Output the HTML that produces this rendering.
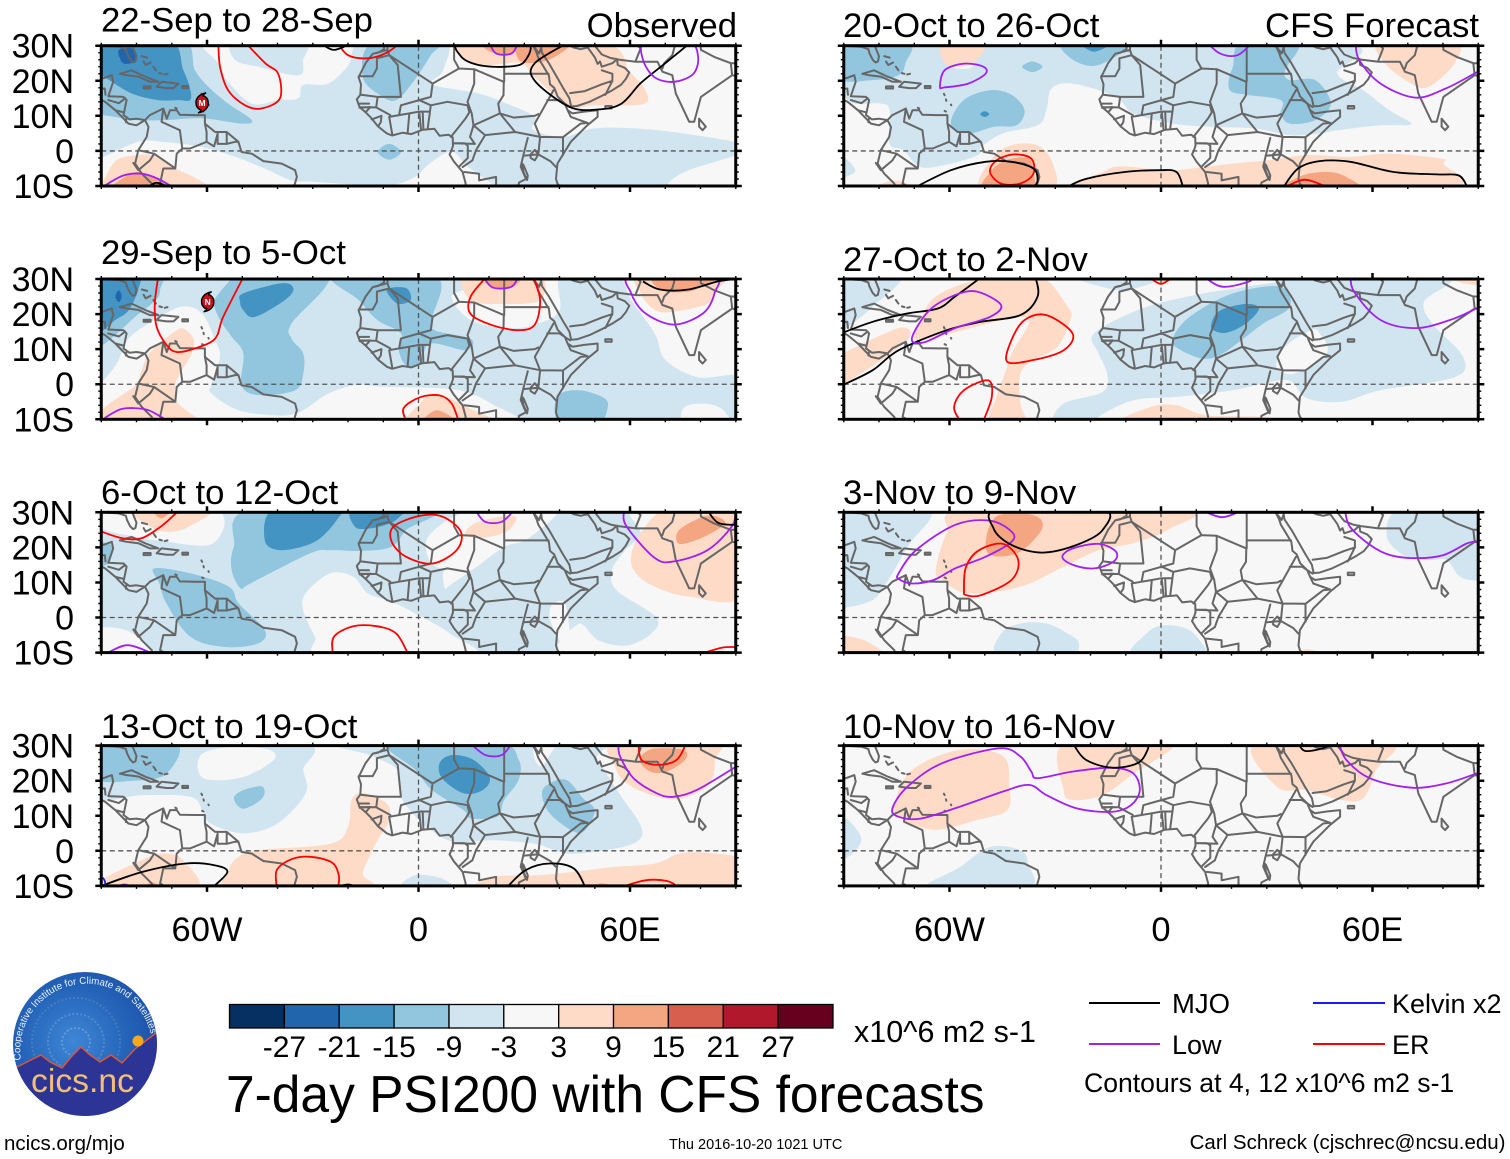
<!DOCTYPE html>
<html lang="en">
<head>
<meta charset="utf-8">
<title>7-day PSI200 with CFS forecasts</title>
<style>
html,body{margin:0;padding:0;background:#fff;}
svg{display:block;font-family:"Liberation Sans",Arial,sans-serif;}
</style>
</head>
<body>
<svg id="figure" xmlns="http://www.w3.org/2000/svg" width="1510" height="1159" viewBox="0 0 1510 1159">
  <defs>
    <radialGradient id="logoSky" cx="0.42" cy="0.48" r="0.62">
      <stop offset="0" stop-color="#3f86d6"/>
      <stop offset="0.6" stop-color="#2464b8"/>
      <stop offset="1" stop-color="#1d4fa6"/>
    </radialGradient>
    <clipPath id="logoClip"><circle cx="85" cy="1044" r="72"/></clipPath>
    <path id="logoArc" d="M 21 1060 A 66 66 0 1 1 152 1040"/>
  </defs>

  <g>
    <circle cx="85" cy="1044" r="72" fill="url(#logoSky)"/>
    <g clip-path="url(#logoClip)">
      <circle cx="76" cy="1042" r="14" fill="none" stroke="#fff" stroke-opacity="0.22" stroke-width="2" stroke-dasharray="2 2"/>
      <circle cx="76" cy="1042" r="28" fill="none" stroke="#fff" stroke-opacity="0.17" stroke-width="2" stroke-dasharray="2 2"/>
      <circle cx="76" cy="1042" r="44" fill="none" stroke="#fff" stroke-opacity="0.12" stroke-width="2" stroke-dasharray="2 2"/>
      <path d="M10 1069 L19 1066 L41 1055 L50 1062 L62 1068 L72 1056 L81 1047 L90 1055 L100 1062 L111 1055 L122 1063 L135 1049 L160 1030 L160 1120 L10 1120 Z" fill="#2c3595" stroke="#e8532b" stroke-width="1.4"/>
      <circle cx="138" cy="1041" r="5.5" fill="#f7a823"/>
    </g>
    <text font-size="9.8" fill="#eaf0fa"><textPath href="#logoArc">Cooperative Institute for Climate and Satellites</textPath></text>
    <text x="31" y="1092" font-size="33.7" fill="#f2bf78">cics.nc</text>
  </g>

  <text x="854" y="1042" font-size="31" textLength="182" lengthAdjust="spacingAndGlyphs">x10^6 m2 s-1</text>
  <text x="226" y="1112" font-size="51.5">7-day PSI200 with CFS forecasts</text>
  <text x="4" y="1150" font-size="20.5">ncics.org/mjo</text>
  <text x="669" y="1149" font-size="14.5">Thu 2016-10-20 1021 UTC</text>
  <text x="1505.5" y="1149" font-size="20.5" text-anchor="end">Carl Schreck (cjschrec@ncsu.edu)</text>

  <g>
    <line x1="1089" x2="1160" y1="1003" y2="1003" stroke="#000" stroke-width="2"/>
    <text x="1172" y="1013" font-size="27.5">MJO</text>
    <line x1="1313" x2="1385" y1="1003" y2="1003" stroke="#1a1aff" stroke-width="2"/>
    <text x="1392" y="1013" font-size="27">Kelvin x2</text>
    <line x1="1089" x2="1160" y1="1044" y2="1044" stroke="#a020f0" stroke-width="2"/>
    <text x="1172" y="1054" font-size="27">Low</text>
    <line x1="1313" x2="1385" y1="1044" y2="1044" stroke="#ff0000" stroke-width="2"/>
    <text x="1392" y="1054" font-size="27">ER</text>
    <text x="1084" y="1092" font-size="26.6">Contours at 4, 12 x10^6 m2 s-1</text>
  </g>
</svg>

<script>
/* ---------- axis and colour-bar values ---------- */
const latTickValues = [30, 20, 10, 0, -10];
const latTickLabels = ['30N', '20N', '10N', '0', '10S'];
const lonTickValues = [-60, 0, 60];
const lonTickLabels = ['60W', '0', '60E'];
const colorbarLabels = [-27, -21, -15, -9, -3, 3, 9, 15, 21, 27];
const colorbarColors = ['#053061', '#2166ac', '#4393c3', '#92c5de', '#d1e5f0', '#f7f7f7', '#fddbc7', '#f4a582', '#d6604d', '#b2182b', '#67001f'];
const panelTitles = ['22-Sep to 28-Sep', '29-Sep to 5-Oct', '6-Oct to 12-Oct', '13-Oct to 19-Oct', '20-Oct to 26-Oct', '27-Oct to 2-Nov', '3-Nov to 9-Nov', '10-Nov to 16-Nov'];
const contourColors = {mjo: '#000000', low: '#a020f0', er: '#ff0000', kelvin: '#1a1aff'};

/* ---------- map outlines, flat lon,lat lists ---------- */
const coastlines = [
  [-92,30,-90,30,-85,29.7,-83,29,-82.7,27.8,-81.8,26,-81,25.2,-80.3,25.5,-80,27,-81,29.5,-81.4,31],
  [-92,21,-89.4,20.7,-87,21.6,-86.6,19.7,-88,15.6,-83.7,15.4,-82.8,14.5,-83.7,10.2,-82,9,-80,9.2,-77.6,8.8,-76.2,10.2,-72.4,12.1,-71.4,9.2,-70.5,11.6,-68.6,11.6,-67.7,10.3,-63.4,10.2,-60.6,10.2,-60.6,7.8,-57.7,5.4,-54.4,5.4,-51.1,2.6,-50.2,-0.3,-47.3,-0.8,-44,-2.9,-38.8,-3.6,-35,-5.5,-34.5,-7.4,-35.2,-9.8,-36,-12],
  [-92,15.5,-88.9,14,-86,11.6,-82.3,7.8,-80,7.3,-77.6,8.8,-76.6,6.8,-77.1,4,-79.5,0.2,-80.4,-3.6,-78.5,-6.5,-75.7,-9.3,-74.5,-12],
  [-84.7,22,-81.4,23,-77.6,21.2,-73.8,19.7,-76.2,19.7,-79.5,21.2,-82.8,21.6,-84.7,22],
  [-74.3,18.3,-72.9,19.7,-68.1,19.2,-69.5,17.9,-71.5,17.9,-74.3,18.3],
  [-78,18.4,-76,18.4,-76,17.8,-78,17.8,-78,18.4],
  [-67,18.5,-65.4,18.5,-65.4,17.9,-67,17.9,-67,18.5],
  [-78.5,27,-77,26.6],[-78,25.5,-77.4,24.5,-76,25.2],[-75.2,24,-74.5,23],[-73.5,22.2,-72.8,22],[-72,21.8,-71.2,22],
  [-61.6,16.3,-61.4,15.9],[-61,14.7,-60.9,14.3],[-59.6,13.2,-59.5,13],[-61.4,11.4,-61,11.2],[-69,12.3,-68.6,12.1],
  [-9.7,31,-9.8,29,-11.5,28,-13,27.7,-15,25,-16.5,22,-17,21,-16.3,19,-16.5,16,-17.5,14.7,-16.7,12.5,-15,11,-13.5,9.5,-11.5,7,-9,5,-7.5,4.4,-4.5,5.2,-2,4.8,1,6,4.5,6.3,6,4.3,8.5,4.6,9.7,3.9,9.8,1.5,9.3,0,8.8,-1,10,-3,11.7,-5,12.5,-6,13.3,-9,13.7,-12],
  [32.5,31,32.5,30,33.5,28,34,26.5,35.5,24,37,21.5,37.3,19,38.5,18,39.5,15.5,41.5,13.5,42.3,11.6,43.7,10.7,47,11.2,50.8,11.6,50.8,9.7,47.9,7.3,43.2,2.6,39.4,-3.6,39,-8,39.4,-9.3,40.4,-10.5,40.5,-12],
  [32.5,30,34.2,27.8,34.8,29.5,35,28,37,25,39,21.5,41,18,42.8,15,43.3,12.7,45,12.8,48.5,14,52,15.7,55,17.3,57.5,18.9,58.8,20.5,59.8,22.4,58.5,23.7,56.5,24.5,56.3,26.2,55,25,52,24,51.5,25.5,50.8,24.8,50,26.7,48,29.5,48.5,30,50,30,52,27.5,54.5,26.5,57,26,61.7,25.4,67.8,25.4,69.2,22.6,72,21.6,73,16.4,76.8,8.3,78.2,8.3,80.1,15.4,89,21.6,92,21],
  [79.6,9.2,81.5,6.9,80.6,5.9,79.6,6.9,79.6,9.2],
  [53,12.8,54.8,12.8,54.8,12.1,53,12.1,53,12.8],
  [31.8,-1,33,0.3,34,-1,33,-2.7,31.8,-2,31.8,-1],
  [29.3,-3.5,29.8,-6,30.8,-8.3,31,-7,29.8,-4,29.3,-3.5]
];
const borders = [
  [-88,14.5,-85,13.6,-83.2,15],[-86,11.6,-83.7,11],[-83,8.2,-82.8,9.6],[-92,17.5,-89,17.8,-88.8,16],
  [-72.4,12.1,-72.9,8.3,-67.7,5.9,-67,0.7,-68.6,-0.8,-69,-5,-72.4,-5,-73.3,-9.3,-70.5,-11,-68,-12],
  [-67,0.7,-64.8,0.7,-60.1,2.6,-60.1,5.4,-60.6,7.8],
  [-60.1,2.6,-58,1.3,-57,4.9,-57,2,-54.4,2,-54.4,5.4],[-54.4,2,-52,2.6,-51.1,2.6],
  [-79.5,0.2,-75,-0.8,-69.5,-4.6],[-80.9,-3.4,-79.5,-5.5,-76.2,-2.7,-75,-0.8],
  [-8.8,31,-8.8,28.8,-13,27.7],[-8.8,28.8,-8.3,27.3,-11.8,26.4,-11.8,23.5,-13,21.3,-17,21.3],
  [-8.3,27.3,-5.9,24.5,-5,15.4,-11.6,15.4,-16.3,16],
  [-8.3,27.3,4,19.2,11.5,23.5],
  [4,19.2,3.5,15.4,0.2,14.5,-5,13,-5.5,10.2,-8.3,9.7,-7.4,4.5],
  [0.2,14.5,3.5,13,8.2,14,13.9,13,14.4,11,13.4,9.3,11.1,6.4,9.2,4],
  [3.5,13,2.6,6.4],
  [-5.5,10.2,-2.6,10.7,0.2,11.2,3,11.2],
  [-2.6,10.7,-3.1,5],[0.2,11.2,0.7,6.2],[1.2,11,1.4,6.3],
  [11.5,23.5,15.8,23.3,15.8,19.2,13.9,14,15.1,10.7,15.6,7.3,14.6,4,16,2,9.8,2.2],
  [10.1,31,10.1,26,11.5,23.5],
  [15.8,23.3,24.2,19.7,24.1,15.9,22.6,13.5,23.1,10.7,27.4,5.4,34.5,4,41,3.9],
  [24.3,31,24.3,19.7],[24.3,22,36.9,22],
  [23.1,10.7,19.8,9.2,15.6,7.3],[15.6,7.3,18.9,4.5,27.4,5.4],
  [23.1,10.7,27,9.5,33,10,34,10.5],
  [34.5,4,33,7.8,38.3,17.3],[36.5,14.5,40,14.5,43,12.5],
  [41,3.9,46,7.8,48,8,43.2,9.7,42.3,11.6],[41,3.9,41,-1.2],
  [34.5,4,34,-1,37.5,-3,39,-4.6],[34,-1,29.7,-1.4],
  [31,3.7,29.7,-1.4,29,-4.5,30.5,-8,28.5,-9,28,-12],
  [18.9,4.5,16.3,0.2,15.3,-2.7,12.5,-4.6],
  [13,-6,17.2,-6.5,17.2,-8.4,22,-7.4,22,-12],
  [9.8,2.2,13,2.2,14,1.5,14,-2,11.5,-4.5],
  [40.4,-10.7,35,-11.5],
  [-12,12.4,-8,10.2],[-13.3,9,-10.5,10,-10.7,8.2,-11.5,7],[-16.7,12.3,-13.7,12.5,-15,11],[-16.7,12.5,-12,12.4,-11.6,15.4],[-16.7,13.5,-14,13.5],
  [43,16.5,47,17,52,19,55,20,55,22,52,23],[55,20,53,16],[48,29.5,46,29,44,29.5,39,32],
  [61.7,25.9,63,29.2,61.2,31],[69.2,23.5,69.7,25,72,27.3,73,31],
  [89,21.6,88.6,25,83.9,26.8,80.1,28.8,80,31],[88.6,25,92,25]
];

/* ---------- anomaly shading: v = bin centre, p = flat lon,lat list ---------- */
const panel1Shading = [
  {v:-6,p:[-92,32,-62,32,-61,29.3,-56.8,25,-54.4,20.2,-47.3,13.5,-39.8,14.5,-34.1,15,-32.7,18.8,-25.6,19.2,-19.9,24.5,-18.5,29.3,-16,32,7,32,7,23,4,19,17,16.4,25,13.5,33,9.7,32.5,6,41,4,49.5,6.4,61.7,6.4,75,5,92,2,92,-0.5,76.6,-5.5,71,-9,68.5,-12,21.6,-12,21.6,-10,14,-4.5,9.4,-0.2,3.3,-3.5,-1,-7.4,-7.6,-9.8,-16,-9.7,-30,-8.8,-36,-8.4,-42.6,-5.5,-52,-1.7,-61.5,1.1,-72.9,2.6,-79.5,2.6,-89.4,-1.7,-92,-2]},
  {v:-6,p:[-52,31,-52,25.9,-45.4,24,-34,21.6,-32.7,25.9,-32.7,31]},
  {v:-12,p:[-92,32,-67.5,32,-63.4,23,-59.6,18.3,-54,13.5,-47.3,8.8,-50.2,7.8,-61.5,9.3,-71.9,8.8,-79.5,8.8,-89.4,10.2,-92,10.5]},
  {v:-18,p:[-92,32,-71,32,-66.7,23,-64.8,17.8,-64.8,14.5,-68.1,14.5,-73.8,14.5,-81.4,16.4,-89.4,21.2,-92,22]},
  {v:-24,p:[-85,28.8,-81.4,29.3,-80,25.9,-83.3,24.8,-84.7,26.4]},
  {v:-12,p:[-13,31,-15.8,21,-10.3,15.5,-6.3,14.5,-2,19,3.3,27,5.3,31]},
  {v:-12,p:[-11.6,-0.3,-8.3,2,-5,-0.3,-8.3,-2.5]},
  {v:6,p:[-89.4,-8.4,-86.6,-3.6,-83.3,-1.7,-75.7,-1.2,-69.5,-4.6,-60.6,-11,-92,-11]},
  {v:12,p:[-86,-11,-84.2,-8,-79.5,-6,-73.8,-8,-69,-11]},
  {v:6,p:[13.5,31,13,26,20,24.5,29,25,33,21,42.7,12.8,50,13,64,13.4,64,18,60,22.5,52,31]},
  {v:12,p:[29,31,29,25.5,37,26,43,31]},
  {v:12,p:[18,31,21,28,27,28,29,31]}
];
const panel1Contours = [
  {k:'er',c:0,p:[-56.8,31,-56.3,24,-54,17.3,-49.2,13,-44.5,12.1,-39.3,15,-39.8,22,-43.5,25,-49.2,31]},
  {k:'er',c:0,p:[-23,31,-20,27.3,-14.4,26.4,-9,28,-5,31]},
  {k:'mjo',c:0,p:[-28,31,-24,28.8,-18.5,31]},
  {k:'mjo',c:1,p:[12,31,12,27,17,24.5,25,24,30,25.4,30.4,31]},
  {k:'low',c:0,p:[20,31,22,27.8,26.4,27.8,28.4,31]},
  {k:'mjo',c:0,p:[42.7,31,33,25,33,20,42.7,12.6,50.8,11.8,57.6,13.5,63,19.3,70,25,77.3,31]},
  {k:'low',c:1,p:[64.4,31,63.7,26,67,21,72.5,19.7,78,22,79.3,27,76.6,31]},
  {k:'low',c:0,p:[-88.9,-9.8,-83.7,-7,-78.5,-6.5,-73.8,-8,-69.5,-10.5]},
  {k:'mjo',c:0,p:[-77,-10.5,-74.3,-9.1,-70.5,-10.5]}
];
const panel2Shading = [
  {v:-6,p:[-92,31,13.5,31,9.4,25,14.8,18.3,25,16,33,17,40,21,40.6,31,56,31,60.3,24,67,14.5,70,7,79.3,2,92,1.7,92,-12,29,-12,29,-10,22.3,-6.4,11.4,-1.7,-10,-0.7,-18,-0.3,-25.6,-2.7,-31.3,-6.5,-35,-8.4,-40.7,-8.9,-51,-7.4,-58.7,-2.7,-58.7,0.2,-56.3,7.8,-57.7,12.6,-61.5,20.2,-67.2,22.1,-74.8,18.3,-82.3,13,-85.6,5.9,-90,0.5,-92,0]},
  {v:0,p:[76,-12,75,-7,80,-5.5,86,-7,88,-12]},
  {v:-12,p:[-92,31,-74,31,-73.3,27,-74.5,24,-80.4,19.2,-86,14,-90,11,-92,11]},
  {v:-18,p:[-92,31,-80,31,-79.5,27,-82.3,21,-86,18.3,-90,15,-92,15]},
  {v:-24,p:[-86,25,-85,26.8,-84.2,25,-85,23.4]},
  {v:-12,p:[-57.7,24.5,-53,30,-50,31,-25.6,31,-36,17.3,-36,13,-32.7,8.8,-32.7,3,-35,-1.7,-45.4,-3.1,-50.2,-0.3,-49.7,8.8,-53,13.5,-56.3,18.3,-58.2,23]},
  {v:-18,p:[-50.6,23.5,-49.7,25.9,-38.8,28.8,-35.5,27.3,-37.9,24,-46.4,19.2,-49.7,21.1]},
  {v:-12,p:[-24,31,4.6,31,4,19,4.6,15.4,14.8,13,13.5,9.7,3.3,11.6,0.5,6,-3.5,5.4,-5.6,9.7,-5,14.5,-11.7,18.3,-17,24]},
  {v:-18,p:[-9,27,-3.5,27.4,-2.2,24,-6,23]},
  {v:-12,p:[39.3,-3.6,45.4,-1.7,52.8,-4,53.5,-7.4,50.8,-11,40,-11]},
  {v:6,p:[13.5,31,14.8,24,23.6,22.9,34.5,24,33.8,31]},
  {v:12,p:[18.2,31,21,27.6,26.4,27.6,29,31]},
  {v:6,p:[-66.7,15.9,-63.9,13,-64.3,8.8,-67.7,3,-69.1,-1.2,-68.1,-5.5,-62.5,-9.8,-60,-11,-92,-11,-89.4,-6.9,-84.2,-3.1,-80,0.2,-77.1,7.8,-72.9,12.1,-69.1,15]},
  {v:6,p:[-2.2,-11,0.5,-5.5,4,-3,10,-4.6,13.5,-6.4,21,-11]},
  {v:12,p:[1.2,-11,5.3,-7.4,10.7,-11]},
  {v:6,p:[63,31,63,26,67,21.2,72.5,20.7,82,23,84.8,27,86,31]},
  {v:12,p:[67,31,69,26.8,76.6,26.4,82,28.7,84.8,31]}
];
const panel2Contours = [
  {k:'er',c:0,p:[-73.8,31,-74.8,23,-74.3,16.4,-71.4,11.1,-68.6,9.2,-63.4,10.2,-57.7,13,-55.4,19.2,-49.7,30.5]},
  {k:'er',c:0,p:[19.6,31,14.8,25,14.8,20,21,16.8,28.4,15.4,33,17,34.5,24,32.5,31]},
  {k:'er',c:0,p:[-3.5,-10.5,-4.2,-6.8,0.5,-3.7,6,-3.2,9.4,-5.5,11.4,-10.5]},
  {k:'low',c:0,p:[18.2,31,21,27.6,26.4,27.8,28.4,31]},
  {k:'low',c:1,p:[60.7,31,60.3,26,64.4,20.2,72.5,17,80.7,20.2,84,26,83.4,31]},
  {k:'mjo',c:0,p:[63.7,29.3,68.5,27,76.6,27,84.8,29.3,90,30]},
  {k:'low',c:0,p:[-89,-9.6,-84.7,-7.2,-80.9,-6.8,-76.6,-7.4,-71.9,-10]}
];
const panel3Shading = [
  {v:-6,p:[-95,33,95,33,95,-13,-95,-13]},
  {v:0,p:[-92,31,-90,25.5,-79.5,22.9,-74,22,-58.5,21,-58,31]},
  {v:0,p:[-25,12.6,-32,6.9,-32.7,2,-29.4,-5.5,-26.6,-11,15,-11,9,-4.6,0,0.7,-7.6,4.5,-14.4,6.9,-18.5,11.6]},
  {v:0,p:[2.1,21.6,5.6,25.9,11.8,29.5,20,31,39.2,31,31.2,22.6,24.5,20.2,16.5,14.5,8.9,9.2,7.5,8.3,6.9,12,7,13.5,3.3,15.9]},
  {v:0,p:[37.8,3.5,41.1,4.5,42.5,-0.3,43,-11,39.2,-5,37.3,-0.3]},
  {v:0,p:[61.7,31,63,24,58.5,19,54.9,13.5,56.2,7.8,67.4,0.1,66,-4.6,59,-8,51,-6.5,45.5,-1.8,42.5,-11,92,-11,92,31]},
  {v:0,p:[-92,-3.6,-83,-3.6,-75,-9.5,-75,-11,-92,-11]},
  {v:6,p:[60.3,17.3,63,24,71,31,92,31,92,6.4,76.6,6,67,8.8,61.7,12.6]},
  {v:12,p:[74,21,74,25,82,29,87,27,81,23]},
  {v:-12,p:[-92,21,-87,20.5,-88,15.5,-92,15]},
  {v:-12,p:[-75,14,-64.7,12.6,-53.8,8.8,-51,4,-43.6,-3.6,-45.6,-7.4,-55,-8.4,-64.7,-5.5,-71.5,4,-73.5,9.7]},
  {v:-12,p:[-47,31,-52.4,20.2,-53,13.5,-50.4,8.3,-47.7,9.7,-30.7,18.3,-25,19.2,-15.8,19,-7.6,20.2,-3.5,25,3.3,31]},
  {v:-18,p:[-41,31,-43.6,22,-38.9,19.2,-29.4,21.6,-23.2,27.8,-23.2,31]},
  {v:-18,p:[-18.5,31,-18,25.9,-13.8,25.4,-8,26.9,-4.8,29.2,-3,31]},
  {v:6,p:[-81,31,-77,26.5,-72,24.5,-66,25.5,-59,31]},
  {v:12,p:[-75.5,31,-73,28.3,-70,31]},
  {v:6,p:[13.2,23.5,16,26.9,25,29,27.9,28.3,25,24.5,18.4,22.8]}
];
const panel3Contours = [
  {k:'er',c:0,p:[-90,24.5,-84,22.6,-78.6,22.6,-73,26,-68,30.5]},
  {k:'er',c:1,p:[-7.6,21.6,-7,26,0.5,29,6.7,28.8,12,24.5,10.8,19.2,4,15.4,-3.5,17.3]},
  {k:'er',c:0,p:[-24.3,-10.5,-24,-5.5,-18.5,-2.5,-11.7,-2.5,-6.3,-4.6,-2.9,-10.5]},
  {k:'er',c:0,p:[80.7,-10.2,86,-8.6,90,-8.4]},
  {k:'low',c:0,p:[16.2,30.5,18.9,27.3,23.6,27.3,27,30.5]},
  {k:'low',c:0,p:[58.3,30.5,59,26,67,17,72.5,16,82,19.2,88.9,26,90,30.5]},
  {k:'mjo',c:0,p:[82,30.5,85,27,90,26.4]},
  {k:'low',c:0,p:[-89,-10.5,-82.5,-7.9,-75,-10.5]}
];
const panel4Shading = [
  {v:-6,p:[-92,31,-34,31,-32.7,23,-32,16.4,-40,7.8,-49.7,5,-59,7.8,-61.3,11.6,-64.7,15.4,-78,15.9,-92,15.4]},
  {v:0,p:[-62,27,-55,29.4,-43,29,-41,26,-50,21,-61,20.7]},
  {v:-6,p:[-21,31,47.5,31,50.8,26,57.6,15.4,63,7.3,62.5,3,56,0.7,42.6,-0.8,33,2,21,3,10,2.6,3.3,6,-0.8,9.7,-5,15.4,-6,23,-13,27]},
  {v:0,p:[33,31,39,31,37,27,35,24,33,26]},
  {v:-12,p:[-92,31,-69,31,-71.5,22,-81,20,-92,20.7]},
  {v:-12,p:[-8.3,31,-0.8,23,3.9,17.3,12.8,11.6,14.8,9.3,22.3,9.7,24.3,14.5,28.4,20.2,28.4,26,22.3,31]},
  {v:-18,p:[6,25,9.4,27.3,15.5,26,20.2,21,18.2,17.3,12.8,16.4,6.7,20.7]},
  {v:-12,p:[35,16.4,37.2,19.2,42,20.2,46.7,15,50,11.6,47.4,6,44,5.5,37.2,10.7]},
  {v:-12,p:[-52.4,15,-49.7,17.3,-44.3,18.3,-44.3,15,-49.7,12]},
  {v:6,p:[55.8,24,55.5,31,84,31,84.1,25.9,82.7,19.2,75.1,15,67.6,15.4,59.1,19.2]},
  {v:12,p:[62.8,25.9,66.2,29,75.1,28.8,75.6,25.9,70.4,22.6,65.7,22.6]},
  {v:6,p:[-53.8,-5.5,-51,-1.7,-45.6,0.2,-25,2,-20,6.9,-19,14.5,-15.8,16.4,-9,13.5,-8.3,8.8,-11,4,-13,0.2,-15.8,-6.5,-14.4,-11,-52.4,-11]},
  {v:6,p:[21,-11,22.3,-7.4,33,-7,44,-6,55,-4.6,67,-3.6,74,-0.8,82,-0.6,92,-2.7,92,-11]},
  {v:12,p:[48,-11,52,-9.3,57.6,-11]},
  {v:6,p:[-92,-11,-78.3,-2.5,-71.5,-0.8,-66.8,-2.7,-63.4,-11]},
  {v:12,p:[-78.3,-11,-75.5,-9,-72.8,-11]},
  {v:-6,p:[-5,-11,-1,-7,6.7,-7.9,9.4,-11]}
];
const panel4Contours = [
  {k:'low',c:0,p:[14.8,30.5,19,27.3,23.6,27.3,26.4,30.5]},
  {k:'low',c:0,p:[56.7,30.5,57.2,26.9,61,20.7,67.6,16.4,72.3,15.4,78.9,17.3,89.3,23.5,91,24.5]},
  {k:'er',c:0,p:[62.4,30.5,63.3,25.9,68,24.5,73.2,25.9,75.9,30.5]},
  {k:'mjo',c:0,p:[-90,-10,-78.3,-6,-66,-3.6,-57.9,-4.1,-54.2,-6,-58.5,-10.5]},
  {k:'mjo',c:0,p:[25,-10.5,30.4,-5.5,37.2,-3.6,44,-5,47.4,-10.5]},
  {k:'er',c:0,p:[-40.2,-10.5,-40.2,-5.5,-36,-2.4,-30.7,-1.7,-24.6,-3.3,-22.6,-7,-22.8,-10.5]},
  {k:'er',c:0,p:[57,-10.5,64.4,-8.4,70.5,-8.6,74,-10.5]},
  {k:'mjo',c:0,p:[-24,-10.5,-20,-9.6,-17,-10.5]},
  {k:'low',c:0,p:[-86,-10.5,-83.5,-9.6,-80,-10.5]},
  {k:'kelvin',c:0,p:[-89.6,-7.6,-89,-8.6,-88.8,-10]}
];
const panel5Shading = [
  {v:-6,p:[-92,31,-62,31,-60.8,24.5,-53.4,24,-50,31,50,31,50,22,57.4,17.3,64.8,11.6,71,7.6,62.3,7.3,51,6,45,5,36.5,4.5,26.6,6.4,14.3,6.9,3.2,7.8,-7.9,10.7,-12.8,15.4,-25,19.2,-31,17.8,-32.5,11.6,-35,7.3,-44.8,5,-51,1.1,-52,-1.2,-59.6,-3.6,-68.2,-4.6,-73,0.2,-77,2,-77,11.6,-79.5,13.5,-86.7,13.5,-90,15.4,-92,15.4]},
  {v:-6,p:[-90,-1.7,-86.7,-5.5,-89.5,-7.4,-92,-7,-92,-2]},
  {v:6,p:[-62,31,-60.8,24.5,-53.4,25,-50,31]},
  {v:6,p:[62.3,31,63.5,25,71,19.2,76,18.3,83.3,25,83.3,31]},
  {v:6,p:[-51,-11,-48,-2.2,-42.4,1.6,-35,1.6,-30.7,-3.6,-31.3,-11]},
  {v:12,p:[-50.4,-11,-48,-5.5,-43.6,-2.5,-37.4,-2.2,-36.2,-6.5,-36.8,-11]},
  {v:6,p:[-17.7,-11,-15.3,-5.5,-10.3,-4.4,-0.5,-5.5,4.4,-5.5,11.8,-4.6,20.4,-3.6,30.3,-2.7,41.4,-1.2,53.7,-1.7,64.8,-0.8,79.6,-2.2,80.2,-3.6,78.3,-11]},
  {v:12,p:[35.2,-11,40.1,-7,47.5,-6,52.5,-7.4,55.9,-11]},
  {v:6,p:[-82,-11,-77,-8.6,-73,-8.9,-70,-11]},
  {v:-12,p:[-92,31,-71.9,31,-72.5,25,-74.4,21.6,-81.8,20.2,-92,20.7]},
  {v:-12,p:[-27.6,31,-25,26,-17.7,24.5,-9,31]},
  {v:-18,p:[-22.7,31,-19,28.3,-14,31]},
  {v:-12,p:[-39.4,24,-36.5,25.5,-33.6,24,-36.5,22.5]},
  {v:-12,p:[-59.6,7.8,-56,14.5,-48.5,17.3,-42.4,16,-38.7,11.6,-41,7.3,-47.3,6.9,-54.7,5]},
  {v:-18,p:[-51.3,10.5,-50,11.3,-48.7,10.5,-50,9.7]},
  {v:-12,p:[19.2,20.2,20.4,24,22.9,31,38.9,31,35.2,23,36.5,20.2,43.8,20.2,48.2,13.5,43.8,8.8,36.5,7.8,34,10.7,34,14.5,24.1,16,19.8,17]}
];
const panel5Contours = [
  {k:'low',c:1,p:[-62.7,18.3,-61.4,23,-55.9,24.9,-50.4,24,-49.8,22,-54.7,19.2,-61.4,18.1]},
  {k:'low',c:0,p:[13,31,16.7,27.8,21.7,27.3,26,31]},
  {k:'low',c:0,p:[55.2,31,56.2,26,62.3,19.2,72.2,15.2,80.8,17.8,89.4,22.3,91,23]},
  {k:'er',c:1,p:[-48.5,-6,-46.7,-2.7,-41.7,-1,-36.8,-2.2,-36.2,-6.5,-39.9,-9.3,-45.4,-9.3]},
  {k:'mjo',c:0,p:[-70,-10.5,-59.6,-5.5,-49.8,-3.1,-42.4,-3.1,-36.2,-5,-35,-8.4,-36.2,-10.5]},
  {k:'mjo',c:0,p:[-27,-10.5,-21.4,-8,-10.3,-6,-0.5,-5.5,4.4,-6,6.3,-10.5]},
  {k:'mjo',c:0,p:[34.6,-10.5,38.9,-5,45,-2.9,53.7,-3.1,66,-6,78.3,-6.7,84.5,-7,87,-10.5]},
  {k:'er',c:0,p:[35,-10.5,40.8,-8.2,47.5,-10.5]}
];
const panel6Shading = [
  {v:6,p:[-68.2,18.3,-63.9,25,-52.2,29.7,-35,31,-26.4,22,-25.7,18.3,-29.4,10.7,-36.2,6.9,-39.9,3,-39.9,-5.5,-38.7,-11,-48.5,-11,-46.7,-3.6,-43.6,5,-42.4,8.8,-37.4,18.3,-44.8,18.3,-59.6,14.5,-69.5,12.6]},
  {v:6,p:[-92,9,-90,9,-74.4,16,-71.3,13.5,-78,7.8,-86.7,2,-90,0,-92,0]},
  {v:6,p:[-9,-11,-3,-6.5,4.4,-6,13,-8.9,29,-9.3,34,-11]},
  {v:6,p:[-3,31,0,28.3,4.4,31]},
  {v:6,p:[80.8,31,85.7,28.8,92,28.3,92,31]},
  {v:-6,p:[-92,31,-73.8,31,-81.9,22,-90,15.4,-92,15]},
  {v:-6,p:[-23.9,31,-17.7,28,-9,27,0.7,31]},
  {v:-6,p:[-19,14.5,-5.4,21.6,9.4,25.4,24.1,27.8,34,29.4,36.5,31,80.8,31,74.6,23.5,77,17.3,85.7,7.8,83.3,2,62.3,-1.7,51.2,-5,41.4,-4,36.5,1,29,0.2,20.4,-1.7,4.4,-3.6,-7.9,-4.6,-17.7,-9.3,-17,-11,-30,-11,-27.6,-5.5,-16.5,-2.2,-15.3,3,-17.7,8.8]},
  {v:0,p:[42.6,15.4,45,14.5,47,8.8,37.7,3,32.8,5,35.2,10.7]},
  {v:-12,p:[3.2,12.6,8.1,19.2,20.4,25.9,34,27.8,36.5,22,29,17.3,22.9,12.6,16.7,8.3,11.8,7.3,5.7,9.7]},
  {v:-18,p:[14.3,17.3,16.7,21,24.1,22.9,27.8,21.6,24.1,17.3,18.6,14.7,14.9,15.4]}
];
const panel6Contours = [
  {k:'mjo',c:0,p:[-92,14,-81.8,17.8,-71.9,20.2,-63.3,21.6,-58.4,25,-51,30.5]},
  {k:'mjo',c:0,p:[-90,-0.1,-81.8,4,-74.4,9.7,-60.8,15.4,-51,17.8,-39.9,19.7,-35,25,-35.6,30.5]},
  {k:'low',c:1,p:[-70.7,13,-65.8,21,-58.4,25.4,-52.2,26.4,-45.4,22.6,-48.5,19.2,-58.4,16,-67,12]},
  {k:'er',c:1,p:[-43.6,6.4,-42.4,12.6,-38.7,18.3,-32.5,19.7,-25.1,14.5,-27.6,9.7,-36.2,6.9]},
  {k:'er',c:0,p:[-57,-10.5,-58.7,-6.5,-55.9,-1.7,-49,1.1,-48,-3.6,-50.4,-10.5]},
  {k:'er',c:0,p:[-3.3,30.5,0,28.6,3.2,30.5]},
  {k:'low',c:0,p:[12.4,30.5,17.4,27.8,24.8,29.2,26,30.5]},
  {k:'low',c:0,p:[53.7,30.5,55,26,62.3,18.3,72.2,16,82,18.3,89.4,21.6,91,23]}
];
const panel7Shading = [
  {v:-6,p:[-92,31,-65.8,31,-71.9,20.2,-78,9.7,-81.8,5,-89,2.9,-92,3]},
  {v:-6,p:[68.3,31,64,23.5,68.8,17.8,76.3,16.4,81,16.4,84.8,11.6,89.6,10.4,92,10.5,92,31]},
  {v:-6,p:[-46,-11,-45.4,-4.6,-39.9,-1.7,-32.5,-1.7,-26.4,-4.6,-23.3,-7.4,-26.4,-11]},
  {v:-6,p:[-7.9,-11,-4.2,-4.6,0.7,-2.2,8.1,-3.6,13,-9.3,14,-11]},
  {v:6,p:[-63.9,13.5,-60.8,24,-54.7,31,6.9,31,2,25,-7.9,21.2,-17.7,19.2,-27.6,14.5,-39.9,8.8,-54.7,6.9,-62,10.7]},
  {v:12,p:[-49.8,20.7,-46.7,28.8,-36.2,29.2,-33.7,25.4,-39.9,18.8,-47.3,17.5]},
  {v:6,p:[-92,-5.5,-84.2,-6.5,-78.7,-11,-92,-11]},
  {v:6,p:[37.7,-11,41.4,-9,47.5,-11]}
];
const panel7Contours = [
  {k:'low',c:1,p:[-74.4,12.6,-69.5,19.2,-58.4,26.4,-48.5,27.6,-42.4,24.5,-42.4,21.6,-49.8,17.3,-58.4,14,-64.5,10.7,-70.7,9.7,-74.4,11]},
  {k:'low',c:1,p:[-28,17.3,-25,19.7,-17.7,21,-12.8,18.8,-13.4,16,-19,14,-25,15]},
  {k:'mjo',c:1,p:[-47.5,25.4,-46,31,-17,31,-16.5,25,-23.9,20.7,-33.7,18.5,-42.4,20.7]},
  {k:'er',c:1,p:[-55.9,7.8,-55.3,14.5,-51.6,19.2,-44.8,21,-40.5,16.4,-42.4,10.7,-51,6.4,-55.3,6.4]},
  {k:'low',c:0,p:[11.8,30.5,17.4,28.6,22.9,30.5]},
  {k:'low',c:0,p:[52.2,30.5,53.6,25.9,59.3,20.7,65,17.8,72.5,16.9,80.1,17.8,86.7,21.1,89.6,21.8,91,22.5]}
];
const panel8Shading = [
  {v:6,p:[-75.6,13.5,-70.7,23,-57,28.8,-44.8,27,-43,18.3,-43.6,11.6,-52.2,8.8,-64.5,6,-74.4,9.7]},
  {v:6,p:[-27,31,-27.6,17.3,-25,14.5,-16.5,15.9,-7.9,22,3.2,31]},
  {v:6,p:[27.2,31,32.8,18.3,41.4,17.3,51.2,14.5,57.4,15,61,23,64.8,31]},
  {v:-6,p:[-90,9.7,-87,6.9,-85,3,-88,-1.2,-92,-1.7,-92,9.7]},
  {v:-6,p:[-66.4,-11,-57,-4.6,-48.5,1.1,-39.9,0.2,-37.7,-3.6,-38,-11]}
];
const panel8Contours = [
  {k:'low',c:1,p:[-76.2,12.1,-71.9,18.3,-62,25,-46,29.2,-39.9,26.9,-36.8,22.6,-35,20.7,-25.1,22.6,-14,23.7,-7.9,22.1,-6,17.3,-8.5,13,-14,11.1,-23.9,12.1,-32.5,15.9,-37.4,18.8,-44.8,16.9,-57,12.6,-68.2,9.2,-74.4,9.7]},
  {k:'mjo',c:0,p:[-24.9,30.5,-21.4,26,-14,23.7,-6.6,25,-3.8,28.8,-3.8,30.5]},
  {k:'mjo',c:0,p:[39,30.5,40.8,28.5,45,29,48.8,30.5]},
  {k:'low',c:0,p:[50.6,30.5,52.5,26,59.2,20.7,71,18,80.8,19.2,89.4,22,91,22.5]}
];

const panelShading = [panel1Shading, panel2Shading, panel3Shading, panel4Shading, panel5Shading, panel6Shading, panel7Shading, panel8Shading];
const panelContours = [panel1Contours, panel2Contours, panel3Contours, panel4Contours, panel5Contours, panel6Contours, panel7Contours, panel8Contours];

/* storms marked on the observed panels: panel index, letter, lon, lat */
const stormPanels = [0, 1];
const stormLetters = ['M', 'N'];
const stormLons = [-61.4, -59.8];
const stormLats = [13.7, 23.5];

/* ---------- drawing ---------- */
const NS = 'http://www.w3.org/2000/svg';
const svg = document.getElementById('figure');
const defs = svg.querySelector('defs');

function el(name) {
  return document.createElementNS(NS, name);
}
function lonScale(col, lon) {
  const left = col === 0 ? 101.25 : 843.75;
  return left + (lon + 90) * 3.525;
}
function latScale(row, lat) {
  const top = 45.7 + row * 233.3;
  return top + (30 - lat) * 3.5075;
}
function toPoints(col, row, flat) {
  const out = [];
  for (let i = 0; i < flat.length; i += 2) {
    out.push([lonScale(col, flat[i]), latScale(row, flat[i + 1])]);
  }
  return out;
}
function f(n) {
  return n.toFixed(1);
}
function smoothPath(pts, closed) {
  const n = pts.length;
  const at = function (i) {
    if (closed) return pts[(i + n) % n];
    return pts[Math.max(0, Math.min(n - 1, i))];
  };
  let d = 'M' + f(pts[0][0]) + ' ' + f(pts[0][1]);
  const last = closed ? n : n - 1;
  for (let i = 0; i < last; i++) {
    const p0 = at(i - 1), p1 = at(i), p2 = at(i + 1), p3 = at(i + 2);
    const c1x = p1[0] + (p2[0] - p0[0]) / 6, c1y = p1[1] + (p2[1] - p0[1]) / 6;
    const c2x = p2[0] - (p3[0] - p1[0]) / 6, c2y = p2[1] - (p3[1] - p1[1]) / 6;
    d += 'C' + f(c1x) + ' ' + f(c1y) + ' ' + f(c2x) + ' ' + f(c2y) + ' ' + f(p2[0]) + ' ' + f(p2[1]);
  }
  return closed ? d + 'Z' : d;
}
function straightPath(pts) {
  return 'M' + pts.map(function (p) { return f(p[0]) + ' ' + f(p[1]); }).join('L');
}
function binColor(v) {
  return colorbarColors[Math.floor((v + 33) / 6)];
}

function drawPanel(index) {
  const col = index < 4 ? 0 : 1;
  const row = index % 4;
  const x0 = lonScale(col, -90), x1 = lonScale(col, 90);
  const y0 = latScale(row, 30), y1 = latScale(row, -10);

  const clip = el('clipPath');
  clip.setAttribute('id', 'panelClip' + index);
  const clipRect = el('rect');
  clipRect.setAttribute('x', x0);
  clipRect.setAttribute('y', y0);
  clipRect.setAttribute('width', x1 - x0);
  clipRect.setAttribute('height', y1 - y0);
  clip.appendChild(clipRect);
  defs.appendChild(clip);

  const g = el('g');
  
  
  svg.appendChild(g);

  const inner = el('g');
  inner.setAttribute('clip-path', 'url(#panelClip' + index + ')');
  
  
  g.appendChild(inner);

  const bg = el('rect');
  
  
  bg.setAttribute('x', x0);
  bg.setAttribute('y', y0);
  bg.setAttribute('width', x1 - x0);
  bg.setAttribute('height', y1 - y0);
  bg.setAttribute('fill', '#f7f7f7');
  inner.appendChild(bg);

  panelShading[index].forEach(function (shape) {
    const path = el('path');
    
    
    path.setAttribute('d', smoothPath(toPoints(col, row, shape.p), true));
    path.setAttribute('fill', binColor(shape.v));
    inner.appendChild(path);
  });

  const eq = el('line');
  
  
  eq.setAttribute('x1', x0);
  eq.setAttribute('x2', x1);
  eq.setAttribute('y1', latScale(row, 0));
  eq.setAttribute('y2', latScale(row, 0));
  eq.setAttribute('stroke', '#555');
  eq.setAttribute('stroke-width', '1.3');
  eq.setAttribute('stroke-dasharray', '5 3.5');
  inner.appendChild(eq);

  const mer = el('line');
  
  
  mer.setAttribute('x1', lonScale(col, 0));
  mer.setAttribute('x2', lonScale(col, 0));
  mer.setAttribute('y1', y0);
  mer.setAttribute('y2', y1);
  mer.setAttribute('stroke', '#555');
  mer.setAttribute('stroke-width', '1.3');
  mer.setAttribute('stroke-dasharray', '5 3.5');
  inner.appendChild(mer);

  const land = el('path');
  
  
  land.setAttribute('d', coastlines.concat(borders).map(function (line) {
    return straightPath(toPoints(col, row, line));
  }).join(''));
  land.setAttribute('fill', 'none');
  land.setAttribute('stroke', '#666');
  land.setAttribute('stroke-width', '2');
  land.setAttribute('stroke-linejoin', 'round');
  land.setAttribute('stroke-linecap', 'round');
  inner.appendChild(land);

  panelContours[index].forEach(function (line) {
    const path = el('path');
    
    
    path.setAttribute('d', smoothPath(toPoints(col, row, line.p), line.c === 1));
    path.setAttribute('fill', 'none');
    path.setAttribute('stroke', contourColors[line.k]);
    path.setAttribute('stroke-width', '1.8');
    inner.appendChild(path);
  });

  /* ticks */
  let minorD = '';
  let majorD = '';
  for (let lon = -90; lon <= 90; lon += 10) {
    const major = lonTickValues.indexOf(lon) >= 0;
    const len = major ? 6 : 3;
    const x = lonScale(col, lon);
    const seg = 'M' + f(x) + ' ' + f(y0) + 'V' + f(y0 - len) + 'M' + f(x) + ' ' + f(y1) + 'V' + f(y1 + len);
    if (major) { majorD += seg; } else { minorD += seg; }
  }
  for (let lat = -10; lat <= 30; lat += 2) {
    const major = lat % 10 === 0;
    const len = major ? 6 : 3;
    const y = latScale(row, lat);
    const seg = 'M' + f(x0) + ' ' + f(y) + 'H' + f(x0 - len) + 'M' + f(x1) + ' ' + f(y) + 'H' + f(x1 + len);
    if (major) { majorD += seg; } else { minorD += seg; }
  }
  const minorTicks = el('path');
  
  
  minorTicks.setAttribute('d', minorD);
  minorTicks.setAttribute('stroke', '#000');
  minorTicks.setAttribute('stroke-width', '1.4');
  minorTicks.setAttribute('fill', 'none');
  g.appendChild(minorTicks);

  const majorTicks = el('path');
  
  
  majorTicks.setAttribute('d', majorD);
  majorTicks.setAttribute('stroke', '#000');
  majorTicks.setAttribute('stroke-width', '2.5');
  majorTicks.setAttribute('fill', 'none');
  g.appendChild(majorTicks);

  const frame = el('rect');
  
  
  frame.setAttribute('x', x0);
  frame.setAttribute('y', y0);
  frame.setAttribute('width', x1 - x0);
  frame.setAttribute('height', y1 - y0);
  frame.setAttribute('fill', 'none');
  frame.setAttribute('stroke', '#000');
  frame.setAttribute('stroke-width', '3');
  g.appendChild(frame);

  /* labels */
  const titleBaselines = col === 0 ? [31.5, 264, 504, 738] : [37, 271, 504, 738];
  const title = el('text');
  
  
  title.setAttribute('x', col === 0 ? 101 : 843);
  title.setAttribute('y', titleBaselines[row]);
  title.setAttribute('font-size', '34.7');
  title.textContent = panelTitles[index];
  g.appendChild(title);

  if (col === 0) {
    latTickValues.forEach(function (lat, i) {
      const t = el('text');
      
      
      t.setAttribute('x', 74);
      t.setAttribute('y', f(latScale(row, lat) + 12));
      t.setAttribute('font-size', '34');
      t.setAttribute('text-anchor', 'end');
      t.textContent = latTickLabels[i];
      g.appendChild(t);
    });
  }
  if (row === 3) {
    lonTickValues.forEach(function (lon, i) {
      const t = el('text');
      
      
      t.setAttribute('x', f(lonScale(col, lon)));
      t.setAttribute('y', 941);
      t.setAttribute('font-size', '34.5');
      t.setAttribute('text-anchor', 'middle');
      t.textContent = lonTickLabels[i];
      g.appendChild(t);
    });
  }
}

for (let i = 0; i < 8; i++) {
  drawPanel(i);
}

/* panel-type labels */
function cornerLabel(text, x, name) {
  const t = el('text');
  
  
  t.setAttribute('x', x);
  t.setAttribute('y', 37);
  t.setAttribute('font-size', '34.7');
  t.setAttribute('text-anchor', 'end');
  t.textContent = text;
  svg.appendChild(t);
}
cornerLabel('Observed', 737, 'observed-label');
cornerLabel('CFS Forecast', 1479, 'forecast-label');

/* storm symbols */
stormLetters.forEach(function (letter, i) {
  const row = stormPanels[i];
  const x = lonScale(0, stormLons[i]);
  const y = latScale(row, stormLats[i]);
  const g = el('g');
  
  
  const body = el('path');
  const pt = function (dx, dy) { return f(x + dx) + ' ' + f(y + dy); };
  body.setAttribute('d', 'M' + pt(4, -10) + 'C' + pt(-3, -9) + ' ' + pt(-7, -4) + ' ' + pt(-6, 1) + 'C' + pt(-6, 4) + ' ' + pt(-3, 7) + ' ' + pt(-1, 7) + 'C' + pt(-1, 8) + ' ' + pt(-2, 9) + ' ' + pt(-4, 10) + 'C' + pt(3, 9) + ' ' + pt(7, 4) + ' ' + pt(6, -1) + 'C' + pt(6, -4) + ' ' + pt(3, -7) + ' ' + pt(1, -7) + 'C' + pt(1, -8) + ' ' + pt(2, -9) + ' ' + pt(4, -10) + 'Z');
  body.setAttribute('fill', '#c8101a');
  body.setAttribute('stroke', '#000');
  body.setAttribute('stroke-width', '1.4');
  g.appendChild(body);
  const t = el('text');
  t.setAttribute('x', x);
  t.setAttribute('y', y + 3);
  t.setAttribute('font-size', '8.5');
  t.setAttribute('font-weight', 'bold');
  t.setAttribute('text-anchor', 'middle');
  t.setAttribute('fill', '#fff');
  t.textContent = letter;
  g.appendChild(t);
  svg.appendChild(g);
});

/* colour bar */
const barGroup = el('g');


svg.appendChild(barGroup);
const barLeft = 229.5, barTop = 1004.5, barHeight = 23.5;
const barCell = (833 - barLeft) / colorbarColors.length;
colorbarColors.forEach(function (color, i) {
  const r = el('rect');
  
  
  r.setAttribute('x', f(barLeft + i * barCell));
  r.setAttribute('y', barTop);
  r.setAttribute('width', f(barCell));
  r.setAttribute('height', barHeight);
  r.setAttribute('fill', color);
  r.setAttribute('stroke', '#000');
  r.setAttribute('stroke-width', '1.3');
  barGroup.appendChild(r);
});
colorbarLabels.forEach(function (label, i) {
  const t = el('text');
  
  
  t.setAttribute('x', f(barLeft + (i + 1) * barCell));
  t.setAttribute('y', 1057);
  t.setAttribute('font-size', '30');
  t.setAttribute('text-anchor', 'middle');
  t.textContent = String(label);
  barGroup.appendChild(t);
});
</script>
</body>
</html>
